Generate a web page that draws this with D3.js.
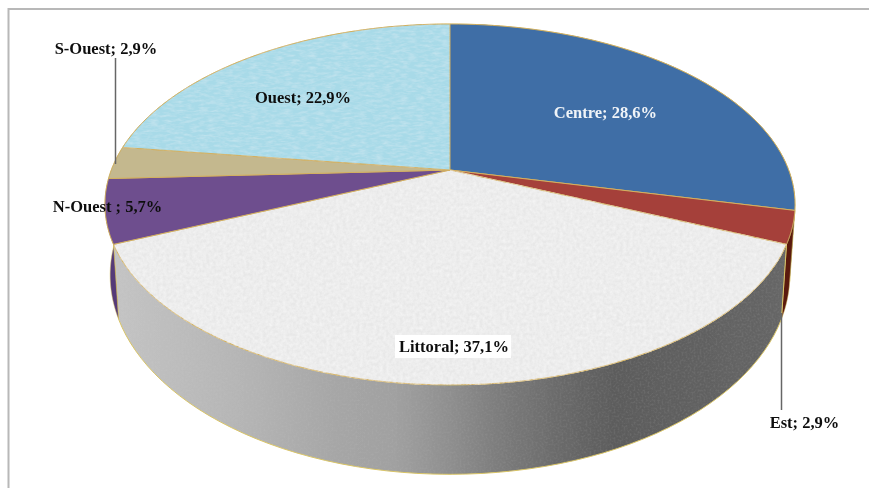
<!DOCTYPE html>
<html><head><meta charset="utf-8">
<script src="https://d3js.org/d3.v7.min.js"></script>
<style>html,body{margin:0;padding:0;background:#fff}svg{display:block}</style>
</head><body><svg id="c" width="869" height="488"></svg>
<script>
const categories=["Centre","Est","Littoral","N-Ouest","S-Ouest","Ouest"];
const values=[28.6,2.9,37.1,5.7,2.9,22.9];
const labelTexts=["Centre; 28,6%","Est; 2,9%","Littoral; 37,1%","N-Ouest ; 5,7%","S-Ouest; 2,9%","Ouest; 22,9%"];
const faceColors=["#3f6ea6","#a5403a","#e8e8e8","#6e4e8e","#c4b88e","#a8dae8"];
const wallColors=["#2c4f78","#5a1a0e","url(#wallGrad)","#553a78","#8f8560","#7aa"];

const svg=d3.select("#c");
const W=869,H=488;
const K=-0.191;
const topRim={cx:450,cy:170,a:173.9,b:338.7};
const botRim={cx:450,cy:237,a:192,b:333.6};
const proj=(p,ang)=>{const u=Math.sin(ang),v=-Math.cos(ang),d=1+K*v;return [p.cx+p.b*u/d,p.cy+p.a*v/d];};
const arcs=d3.pie().sort(null).value(d=>d)(values);
const line=d3.line();
const samples=(a0,a1)=>d3.range(0,61).map(i=>a0+(a1-a0)*i/60);

const defs=svg.append("defs");
const g=defs.append("linearGradient").attr("id","wallGrad").attr("gradientUnits","userSpaceOnUse")
 .attr("x1",110).attr("x2",790).attr("y1",0).attr("y2",0);
[[0,"#c4c4c4"],[.1,"#bcbcbc"],[.2,"#b4b4b4"],[.33,"#a6a6a6"],[.42,"#a0a0a0"],[.5,"#8e8e8e"],[.58,"#7a7a7a"],[.66,"#6a6a6a"],[.74,"#5c5c5c"],[.82,"#5e5e5e"],[.9,"#626262"],[1,"#666"]]
 .forEach(s=>g.append("stop").attr("offset",s[0]).attr("stop-color",s[1]));
const noise=(id,fx,fy,strength,bias)=>{
 const f=defs.append("filter").attr("id",id).attr("x","0").attr("y","0").attr("width","100%").attr("height","100%");
 f.append("feTurbulence").attr("type","fractalNoise").attr("baseFrequency",fx+" "+fy).attr("numOctaves",3).attr("seed",4).attr("result","n");
 f.append("feColorMatrix").attr("in","n").attr("type","matrix").attr("values",`0 0 0 0 1 0 0 0 0 1 0 0 0 0 1 ${strength} 0 0 0 ${bias}`).attr("result","w");
 f.append("feComposite").attr("in","w").attr("in2","SourceAlpha").attr("operator","in").attr("result","t");
 f.append("feMerge").call(m=>{m.append("feMergeNode").attr("in","SourceGraphic");m.append("feMergeNode").attr("in","t");});
};
noise("texPaper",.3,.3,.8,-.2);
noise("texWater",.12,.4,.45,-.17);
noise("texWall",.5,.5,.1,-.04);
const soft=defs.append("filter").attr("id","soft");
soft.append("feGaussianBlur").attr("stdDeviation",.3);

// frame
svg.append("path").attr("d",line([[8.5,H],[8.5,9],[W,9]])).attr("fill","none").attr("stroke","#b8b8b8").attr("stroke-width",2);

// walls
const chart=svg.append("g");
chart.selectAll("path.wall").data(arcs).join("path").attr("class","wall")
 .attr("d",d=>{const s=samples(d.startAngle,d.endAngle);
   return line([...s.map(a=>proj(topRim,a)),...s.slice().reverse().map(a=>proj(botRim,a))])+"Z";})
 .attr("fill",(d,i)=>wallColors[i])
 .attr("filter",(d,i)=>i==2?"url(#texWall)":null)
 .attr("stroke","#d9c464").attr("stroke-width",(d,i)=>i==2?1:.5);

// faces
chart.selectAll("path.face").data(arcs).join("path").attr("class","face")
 .attr("d",d=>line([[topRim.cx,topRim.cy],...samples(d.startAngle,d.endAngle).map(a=>proj(topRim,a))])+"Z")
 .attr("fill",(d,i)=>faceColors[i])
 .attr("stroke","#d3b060").attr("stroke-width",1).attr("stroke-linejoin","round")
 .attr("filter",(d,i)=>i==2?"url(#texPaper)":i==5?"url(#texWater)":null);

// leader lines
const leaders=[[[115.5,58],[115.5,164]],[[781.5,313],[781.5,410]]];
svg.selectAll("path.lead").data(leaders).join("path").attr("class","lead").attr("d",d=>line(d)).attr("stroke","#666").attr("stroke-width",1.5).attr("fill","none");

// labels
const labelPos=[[605.5,118,"#f0f4f8"],[804.5,428,"#111"],[454,352,"#111"],[107.5,212,"#111"],[106,54,"#111"],[303,103,"#111"]];
svg.append("rect").attr("x",395).attr("y",335).attr("width",116).attr("height",23).attr("fill","#fff");
svg.selectAll("text").data(labelTexts).join("text").text(d=>d)
 .attr("x",(d,i)=>labelPos[i][0]).attr("y",(d,i)=>labelPos[i][1])
 .attr("text-anchor","middle").attr("fill",(d,i)=>labelPos[i][2])
 .attr("filter","url(#soft)")
 .style("font-family","'Liberation Serif'").style("font-weight","bold").style("font-size","16.5px");
</script></body></html>
